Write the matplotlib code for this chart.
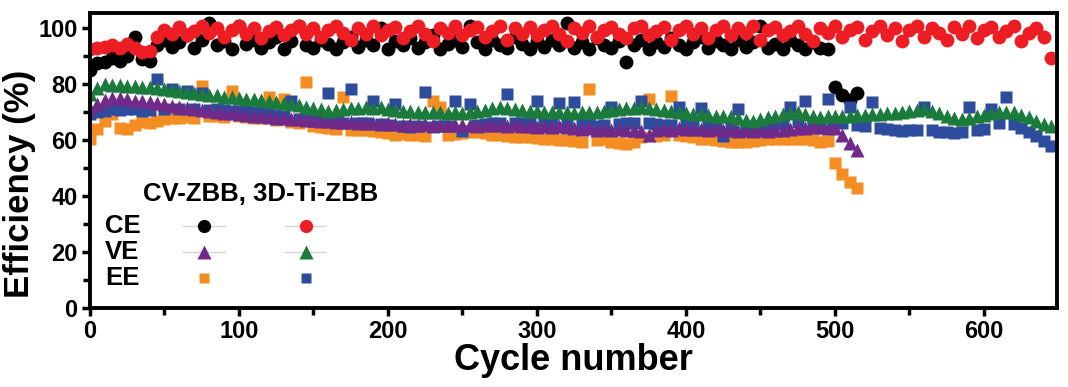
import numpy as np
import matplotlib
matplotlib.use("Agg")
import matplotlib.pyplot as plt
from matplotlib.ticker import MultipleLocator

plt.rcParams['font.family'] = ['Liberation Sans', 'DejaVu Sans']
plt.rcParams['font.weight'] = 'bold'

CYCLE_STEP = 5

# 3D-Ti-ZBB coulombic efficiency (cycles 0..645)
ce_3d = [92.5, 93, 93.5, 94, 93, 94.5, 93, 91.5, 92, 97,
         99.5, 98, 100.5, 97.5, 99, 101, 98.5, 100, 97, 99.5,
         101, 98, 100, 96.5, 99, 100.5, 97.5, 99.5, 101, 98,
         100, 97, 99.5, 101, 98.5, 96, 100, 98, 101, 97.5,
         99.5, 100.5, 96.5, 99, 101, 98, 95.5, 100, 98.5, 101,
         97.5, 99.5, 100.5, 97, 99, 101, 96, 100, 98, 100.5,
         97.5, 99.5, 101, 98, 95.5, 100, 98.5, 101, 97, 99.5,
         100.5, 98, 96.5, 100, 101, 97.5, 99, 100.5, 96, 99.5,
         101, 98, 100, 96.5, 99.5, 101, 97.5, 100, 98.5, 101,
         96, 99.5, 100.5, 97.5, 99, 101, 98, 95.5, 100, 98.5,
         101, 97, 99.5, 100.5, 96, 99, 101, 97.5, 100, 95.5,
         99.5, 101, 97, 100, 98.5, 96, 100.5, 98, 101, 96.5,
         99.5, 100.5, 97, 99, 101, 95.5, 98.5, 100, 97, 89.5]

# CV-ZBB coulombic efficiency (cycles 0..515)
ce_cv = [85, 87.5, 88, 89.5, 88.5, 90, 97, 89, 88.5, 94,
         96, 93.5, 95, 97.5, 93, 96, 102, 94, 95.5, 92.5,
         101, 94.5, 96, 93, 95, 97, 92.5, 95.5, 101, 94,
         93, 96, 94.5, 92.5, 95, 97, 93.5, 96, 94, 100,
         92.5, 95.5, 94, 96.5, 93, 95, 97.5, 92.5, 94.5, 96,
         93.5, 101, 95, 92.5, 96, 94, 93, 97, 94.5, 92.5,
         95.5, 93.5, 96, 94, 102, 93, 95, 92.5, 96.5, 94,
         93, 95.5, 88, 94, 96, 92.5, 95, 93.5, 96.5, 94,
         92.5, 95, 97, 93, 95.5, 94, 92.5, 96, 93.5, 95,
         101, 93, 94.5, 92.5, 96, 94, 92.5, 95, 93, 92.5,
         79, 76, 74.5, 77]

# CV-ZBB voltage efficiency (cycles 0..515)
ve_cv = [71, 73, 74.5, 75, 75.2, 74.8, 74.2, 74, 73.6, 73.2,
         72.8, 72.3, 71.9, 71.4, 71.2, 70.8, 70.4, 70.2, 69.8, 69.6,
         69.3, 69, 68.7, 68.5, 68.3, 68, 67.9, 67.7, 67.5, 67.4,
         67.2, 67, 66.8, 66.6, 66.5, 66.4, 66.2, 66.3, 66, 65.9,
         66, 65.8, 65.6, 65.7, 65.5, 65.7, 65.6, 65.4, 65.5, 65.3,
         65.6, 65.4, 65.2, 65.5, 65.6, 65.3, 65.1, 65.4, 65, 65.2,
         64.9, 65.1, 64.8, 65, 64.7, 64.3, 64, 64.2, 63.8, 64.1,
         63.7, 64, 63.5, 63.8, 63.2, 62, 63.5, 64, 63.8, 64.2,
         63.9, 64.1, 64, 63.7, 63.9, 63.5, 63.8, 63.4, 63.6, 63.2,
         63.5, 63.3, 63.6, 63.8, 64, 64.3, 64.5, 64.6, 64.8, 64.5,
         64.3, 62, 59, 56.5]

# 3D-Ti-ZBB voltage efficiency (cycles 0..645)
ve_3d = [76.5, 78.5, 80, 79.8, 79.6, 79.5, 79.4, 79.2, 79, 78.5,
         78.2, 77.8, 77.5, 77.2, 76.8, 76.5, 76.2, 76, 75.6, 75.3,
         75, 74.8, 74.7, 74.3, 74, 73.6, 73.3, 72.8, 72.5, 72,
         71.5, 71, 70.5, 70.8, 71, 71.4, 71.6, 71.8, 71.7, 71.8,
         71.3, 70.9, 70.6, 70.3, 70.1, 70, 70.2, 70, 69.8, 70,
         69.9, 70, 70.3, 70.8, 71.4, 71.8, 71.5, 71.2, 70.9, 70.6,
         70.4, 70.2, 70, 70, 70.1, 69.9, 70, 70.2, 70, 70.4,
         70.8, 71.1, 71.4, 71.6, 71.8, 71.6, 71.2, 70.8, 70.4, 70,
         69.7, 69.4, 69.3, 69, 68.8, 68.7, 68.6, 68, 67.2, 66.8,
         67.5, 68.2, 68.8, 69.4, 69.8, 70, 69.3, 68.6, 68.4, 68.5,
         68.6, 68.6, 68.8, 69, 69.1, 69.3, 69.5, 69.6, 69.8, 70.1,
         70.4, 70.8, 71, 70.5, 69.6, 68.6, 67.8, 67.5, 67.8, 68.5,
         69.2, 69.8, 70.1, 70.2, 70, 69.2, 68.2, 67, 65.9, 65.2]

# CV-ZBB energy efficiency (cycles 0..515)
ee_cv = [60.5, 64, 67, 69.5, 64.5, 64, 65.5, 66.5, 66, 67,
         67.5, 68, 67.8, 68.2, 68, 79.5, 68.5, 68.6, 68.3, 77.5,
         68.5, 68.2, 68, 67.8, 75.4, 67.3, 74.7, 66.4, 66, 80.8,
         65, 64.6, 64.3, 64, 75.4, 63.8, 63.6, 63.6, 63.2, 62.8,
         62.5, 62, 62.2, 62, 61.8, 61.5, 74, 72, 61.8, 62.2,
         62.5, 62.8, 62.8, 62.5, 62, 61.8, 61.5, 61.2, 61, 61,
         60.8, 60.5, 60.5, 60.2, 60, 59.6, 59.5, 78.3, 60, 60.3,
         59.5, 59, 58.5, 59.5, 61, 74.7, 61.5, 62, 75.8, 62,
         61.5, 61, 60.6, 60.3, 60, 59.8, 59.5, 59.2, 59.4, 59.8,
         60, 60.3, 60.5, 60.5, 60.4, 60.3, 60.3, 60, 59.5, 59.8,
         52, 48, 45, 43]

# 3D-Ti-ZBB energy efficiency (cycles 0..645)
ee_3d = [69.3, 70, 70.5, 71, 70.8, 71, 71.2, 70.6, 70.8, 81.9,
         71, 78.3, 71.2, 77.6, 71, 77, 70.8, 71, 70.8, 70.6,
         70.5, 70.4, 70.2, 70, 69.6, 69.2, 68.8, 74, 67.5, 67.3,
         67, 66.8, 76.8, 66.5, 66.3, 78.3, 66, 66, 74, 65.8,
         65.6, 72.9, 65.2, 64.6, 65, 77.2, 64.8, 65, 65.2, 74,
         63.3, 72.9, 65.5, 65.8, 66, 66.2, 76.5, 66.2, 66, 66,
         74, 66, 66.2, 73.3, 66, 73.6, 66, 65.8, 65, 65.5,
         71.8, 65.8, 66, 66.2, 74, 66, 65.8, 65.5, 65.6, 72,
         65.5, 65.3, 71.5, 65, 64.5, 61.4, 64.6, 71, 64.8, 65,
         65.2, 65.5, 65.8, 66, 72, 66.5, 74, 66.2, 66, 74.7,
         66.5, 66, 72, 65.5, 65, 73.6, 64.2, 64, 63.5, 63.2,
         63.5, 63.8, 72, 63.5, 63, 62.8, 62.5, 63, 71.8, 63.5,
         64, 71, 66, 75.4, 65.8, 64.5, 62.8, 61.5, 59.6, 57.8]

x_ticks = [0, 100, 200, 300, 400, 500, 600]
y_ticks = [0, 20, 40, 60, 80, 100]
legend_title = "CV-ZBB, 3D-Ti-ZBB"
row_labels = ["CE", "VE", "EE"]

C_BLACK = "#000000"
C_RED = "#EE1D24"
C_PURPLE = "#722A8A"
C_GREEN = "#1B7B3D"
C_ORANGE = "#F58E22"
C_BLUE = "#2E4C9E"


def cycles(vals):
    return np.arange(len(vals)) * CYCLE_STEP


fig = plt.figure(figsize=(10.68, 3.87), dpi=100)
ax = fig.add_axes([90 / 1068, 79 / 387, 967 / 1068, 295 / 387])

ms_c, ms_t, ms_s = 10, 10.5, 8.5
ax.plot(cycles(ce_cv), ce_cv, 'o', color=C_BLACK, ms=ms_c, mec='none')
ax.plot(cycles(ce_3d), ce_3d, 'o', color=C_RED, ms=ms_c, mec='none')
ax.plot(cycles(ee_cv), ee_cv, 's', color=C_ORANGE, ms=ms_s, mec='none')
ax.plot(cycles(ee_3d), ee_3d, 's', color=C_BLUE, ms=ms_s, mec='none')
ax.plot(cycles(ve_cv), ve_cv, '^', color=C_PURPLE, ms=ms_t, mec='none')
ax.plot(cycles(ve_3d), ve_3d, '^', color=C_GREEN, ms=ms_t, mec='none')

ax.set_xlim(0, 649)
ax.set_ylim(0, 105.5)
ax.set_xticks(x_ticks)
ax.set_yticks(y_ticks)
ax.xaxis.set_minor_locator(MultipleLocator(50))
ax.yaxis.set_minor_locator(MultipleLocator(10))
ax.tick_params(which='major', direction='out', length=6, width=2.5,
               labelsize=17, pad=3)
ax.tick_params(which='minor', direction='out', length=5, width=2.5)
for lab in ax.get_xticklabels() + ax.get_yticklabels():
    lab.set_fontweight('bold')
for sp in ax.spines.values():
    sp.set_linewidth(2.8)

ax.set_xlabel("Cycle number", fontsize=26, fontweight='bold', labelpad=0)
ax.set_ylabel("Efficiency (%)", fontsize=25, fontweight='bold')
ax.yaxis.set_label_coords(-0.056, 0.42)

# manual legend
tr = ax.transAxes
ax.text(0.0548, 0.385, legend_title, transform=tr, fontsize=18.5,
        fontweight='bold', va='center', ha='left')
row_y = [0.278, 0.190, 0.103]
for lab, yy in zip(row_labels, row_y):
    ax.text(0.0155, yy, lab, transform=tr, fontsize=18.5, fontweight='bold',
            va='center', ha='left')
gray = "#D5D5D5"
for yy in row_y[:2]:
    ax.plot([0.096, 0.140], [yy, yy], color=gray, lw=1, transform=tr)
    ax.plot([0.2017, 0.243], [yy, yy], color=gray, lw=1, transform=tr)
leg_markers = [('o', C_BLACK, C_RED, 9.5), ('^', C_PURPLE, C_GREEN, 9.5),
               ('s', C_ORANGE, C_BLUE, 7.8)]
for (mk, c1, c2, ms), yy in zip(leg_markers, row_y):
    ax.plot([0.118], [yy], mk, color=c1, ms=ms, mec='none', transform=tr)
    ax.plot([0.2234], [yy], mk, color=c2, ms=ms, mec='none', transform=tr)

fig.savefig("out.png", dpi=100)
